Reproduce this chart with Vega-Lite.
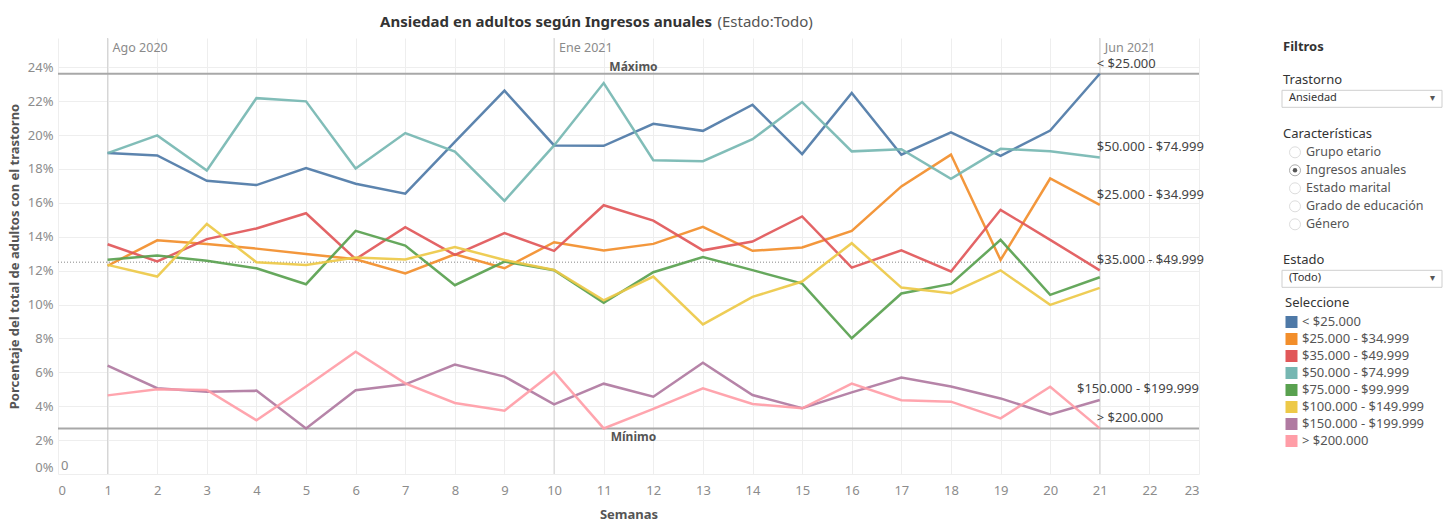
{
  "$schema": "https://vega.github.io/schema/vega-lite/v6.json",
  "background": "white",
  "padding": {"left": 8, "top": 14, "right": 0, "bottom": 0},
  "bounds": "flush",
  "spacing": 83,
  "config": {"font": "Noto Sans", "view": {"stroke": null}, "axis": {"labelOverlap": false}},
  "title": {
    "text": "Ansiedad en adultos según Ingresos anuales",
    "subtitle": "\u200b\u2003\u2003\u2003\u2003\u2003\u2003\u2003\u2003\u2003\u2003\u2003\u2003\u2003\u2003\u2003\u2003\u2003\u2003\u2003\u2003\u2003\u2003\u2009\u2009\u2009(Estado:Todo)",
    "anchor": "start",
    "frame": "group",
    "dx": 322,
    "fontSize": 15,
    "fontWeight": "bold",
    "color": "#333333",
    "lineHeight": 15,
    "subtitleFontSize": 15,
    "subtitleLineHeight": 15,
    "subtitleColor": "#555555",
    "subtitleFontWeight": "normal",
    "subtitlePadding": -15,
    "offset": 8
  },
  "datasets": {
    "series": [
      {"s":"< $25.000","w":1,"v":18.94},{"s":"< $25.000","w":2,"v":18.80},{"s":"< $25.000","w":3,"v":17.30},{"s":"< $25.000","w":4,"v":17.05},{"s":"< $25.000","w":5,"v":18.05},{"s":"< $25.000","w":6,"v":17.13},{"s":"< $25.000","w":7,"v":16.54},{"s":"< $25.000","w":8,"v":19.60},{"s":"< $25.000","w":9,"v":22.62},{"s":"< $25.000","w":10,"v":19.39},{"s":"< $25.000","w":11,"v":19.37},{"s":"< $25.000","w":12,"v":20.67},{"s":"< $25.000","w":13,"v":20.25},{"s":"< $25.000","w":14,"v":21.79},{"s":"< $25.000","w":15,"v":18.88},{"s":"< $25.000","w":16,"v":22.48},{"s":"< $25.000","w":17,"v":18.84},{"s":"< $25.000","w":18,"v":20.16},{"s":"< $25.000","w":19,"v":18.78},{"s":"< $25.000","w":20,"v":20.27},{"s":"< $25.000","w":21,"v":23.62},
      {"s":"$25.000 - $34.999","w":1,"v":12.29},{"s":"$25.000 - $34.999","w":2,"v":13.79},{"s":"$25.000 - $34.999","w":3,"v":13.57},{"s":"$25.000 - $34.999","w":4,"v":13.30},{"s":"$25.000 - $34.999","w":5,"v":12.99},{"s":"$25.000 - $34.999","w":6,"v":12.67},{"s":"$25.000 - $34.999","w":7,"v":11.83},{"s":"$25.000 - $34.999","w":8,"v":12.97},{"s":"$25.000 - $34.999","w":9,"v":12.14},{"s":"$25.000 - $34.999","w":10,"v":13.68},{"s":"$25.000 - $34.999","w":11,"v":13.19},{"s":"$25.000 - $34.999","w":12,"v":13.58},{"s":"$25.000 - $34.999","w":13,"v":14.58},{"s":"$25.000 - $34.999","w":14,"v":13.17},{"s":"$25.000 - $34.999","w":15,"v":13.37},{"s":"$25.000 - $34.999","w":16,"v":14.35},{"s":"$25.000 - $34.999","w":17,"v":16.97},{"s":"$25.000 - $34.999","w":18,"v":18.85},{"s":"$25.000 - $34.999","w":19,"v":12.63},{"s":"$25.000 - $34.999","w":20,"v":17.44},{"s":"$25.000 - $34.999","w":21,"v":15.88},
      {"s":"$35.000 - $49.999","w":1,"v":13.56},{"s":"$35.000 - $49.999","w":2,"v":12.54},{"s":"$35.000 - $49.999","w":3,"v":13.86},{"s":"$35.000 - $49.999","w":4,"v":14.49},{"s":"$35.000 - $49.999","w":5,"v":15.39},{"s":"$35.000 - $49.999","w":6,"v":12.68},{"s":"$35.000 - $49.999","w":7,"v":14.57},{"s":"$35.000 - $49.999","w":8,"v":12.93},{"s":"$35.000 - $49.999","w":9,"v":14.22},{"s":"$35.000 - $49.999","w":10,"v":13.17},{"s":"$35.000 - $49.999","w":11,"v":15.86},{"s":"$35.000 - $49.999","w":12,"v":14.95},{"s":"$35.000 - $49.999","w":13,"v":13.20},{"s":"$35.000 - $49.999","w":14,"v":13.72},{"s":"$35.000 - $49.999","w":15,"v":15.20},{"s":"$35.000 - $49.999","w":16,"v":12.18},{"s":"$35.000 - $49.999","w":17,"v":13.20},{"s":"$35.000 - $49.999","w":18,"v":11.95},{"s":"$35.000 - $49.999","w":19,"v":15.59},{"s":"$35.000 - $49.999","w":20,"v":13.82},{"s":"$35.000 - $49.999","w":21,"v":12.02},
      {"s":"$50.000 - $74.999","w":1,"v":18.94},{"s":"$50.000 - $74.999","w":2,"v":19.98},{"s":"$50.000 - $74.999","w":3,"v":17.91},{"s":"$50.000 - $74.999","w":4,"v":22.18},{"s":"$50.000 - $74.999","w":5,"v":21.99},{"s":"$50.000 - $74.999","w":6,"v":18.03},{"s":"$50.000 - $74.999","w":7,"v":20.12},{"s":"$50.000 - $74.999","w":8,"v":19.03},{"s":"$50.000 - $74.999","w":9,"v":16.12},{"s":"$50.000 - $74.999","w":10,"v":19.39},{"s":"$50.000 - $74.999","w":11,"v":23.07},{"s":"$50.000 - $74.999","w":12,"v":18.52},{"s":"$50.000 - $74.999","w":13,"v":18.46},{"s":"$50.000 - $74.999","w":14,"v":19.76},{"s":"$50.000 - $74.999","w":15,"v":21.95},{"s":"$50.000 - $74.999","w":16,"v":19.04},{"s":"$50.000 - $74.999","w":17,"v":19.17},{"s":"$50.000 - $74.999","w":18,"v":17.42},{"s":"$50.000 - $74.999","w":19,"v":19.19},{"s":"$50.000 - $74.999","w":20,"v":19.05},{"s":"$50.000 - $74.999","w":21,"v":18.68},
      {"s":"$75.000 - $99.999","w":1,"v":12.65},{"s":"$75.000 - $99.999","w":2,"v":12.89},{"s":"$75.000 - $99.999","w":3,"v":12.58},{"s":"$75.000 - $99.999","w":4,"v":12.14},{"s":"$75.000 - $99.999","w":5,"v":11.20},{"s":"$75.000 - $99.999","w":6,"v":14.35},{"s":"$75.000 - $99.999","w":7,"v":13.48},{"s":"$75.000 - $99.999","w":8,"v":11.14},{"s":"$75.000 - $99.999","w":9,"v":12.54},{"s":"$75.000 - $99.999","w":10,"v":12.03},{"s":"$75.000 - $99.999","w":11,"v":10.10},{"s":"$75.000 - $99.999","w":12,"v":11.91},{"s":"$75.000 - $99.999","w":13,"v":12.81},{"s":"$75.000 - $99.999","w":14,"v":12.03},{"s":"$75.000 - $99.999","w":15,"v":11.24},{"s":"$75.000 - $99.999","w":16,"v":8.01},{"s":"$75.000 - $99.999","w":17,"v":10.65},{"s":"$75.000 - $99.999","w":18,"v":11.22},{"s":"$75.000 - $99.999","w":19,"v":13.82},{"s":"$75.000 - $99.999","w":20,"v":10.57},{"s":"$75.000 - $99.999","w":21,"v":11.61},
      {"s":"$100.000 - $149.999","w":1,"v":12.34},{"s":"$100.000 - $149.999","w":2,"v":11.65},{"s":"$100.000 - $149.999","w":3,"v":14.76},{"s":"$100.000 - $149.999","w":4,"v":12.50},{"s":"$100.000 - $149.999","w":5,"v":12.34},{"s":"$100.000 - $149.999","w":6,"v":12.77},{"s":"$100.000 - $149.999","w":7,"v":12.66},{"s":"$100.000 - $149.999","w":8,"v":13.40},{"s":"$100.000 - $149.999","w":9,"v":12.63},{"s":"$100.000 - $149.999","w":10,"v":12.04},{"s":"$100.000 - $149.999","w":11,"v":10.25},{"s":"$100.000 - $149.999","w":12,"v":11.65},{"s":"$100.000 - $149.999","w":13,"v":8.83},{"s":"$100.000 - $149.999","w":14,"v":10.45},{"s":"$100.000 - $149.999","w":15,"v":11.36},{"s":"$100.000 - $149.999","w":16,"v":13.62},{"s":"$100.000 - $149.999","w":17,"v":11.00},{"s":"$100.000 - $149.999","w":18,"v":10.67},{"s":"$100.000 - $149.999","w":19,"v":12.02},{"s":"$100.000 - $149.999","w":20,"v":9.98},{"s":"$100.000 - $149.999","w":21,"v":10.98},
      {"s":"$150.000 - $199.999","w":1,"v":6.40},{"s":"$150.000 - $199.999","w":2,"v":5.06},{"s":"$150.000 - $199.999","w":3,"v":4.86},{"s":"$150.000 - $199.999","w":4,"v":4.92},{"s":"$150.000 - $199.999","w":5,"v":2.69},{"s":"$150.000 - $199.999","w":6,"v":4.94},{"s":"$150.000 - $199.999","w":7,"v":5.29},{"s":"$150.000 - $199.999","w":8,"v":6.46},{"s":"$150.000 - $199.999","w":9,"v":5.75},{"s":"$150.000 - $199.999","w":10,"v":4.11},{"s":"$150.000 - $199.999","w":11,"v":5.33},{"s":"$150.000 - $199.999","w":12,"v":4.56},{"s":"$150.000 - $199.999","w":13,"v":6.57},{"s":"$150.000 - $199.999","w":14,"v":4.66},{"s":"$150.000 - $199.999","w":15,"v":3.88},{"s":"$150.000 - $199.999","w":16,"v":4.82},{"s":"$150.000 - $199.999","w":17,"v":5.69},{"s":"$150.000 - $199.999","w":18,"v":5.16},{"s":"$150.000 - $199.999","w":19,"v":4.46},{"s":"$150.000 - $199.999","w":20,"v":3.52},{"s":"$150.000 - $199.999","w":21,"v":4.37},
      {"s":"> $200.000","w":1,"v":4.64},{"s":"> $200.000","w":2,"v":5.00},{"s":"> $200.000","w":3,"v":4.96},{"s":"> $200.000","w":4,"v":3.17},{"s":"> $200.000","w":5,"v":5.16},{"s":"> $200.000","w":6,"v":7.22},{"s":"> $200.000","w":7,"v":5.35},{"s":"> $200.000","w":8,"v":4.19},{"s":"> $200.000","w":9,"v":3.74},{"s":"> $200.000","w":10,"v":6.04},{"s":"> $200.000","w":11,"v":2.69},{"s":"> $200.000","w":12,"v":3.84},{"s":"> $200.000","w":13,"v":5.06},{"s":"> $200.000","w":14,"v":4.13},{"s":"> $200.000","w":15,"v":3.88},{"s":"> $200.000","w":16,"v":5.33},{"s":"> $200.000","w":17,"v":4.35},{"s":"> $200.000","w":18,"v":4.27},{"s":"> $200.000","w":19,"v":3.28},{"s":"> $200.000","w":20,"v":5.15},{"s":"> $200.000","w":21,"v":2.69}
    ],
    "panel": [
      {"row":"Filtros","label":"Filtros","kind":"title"},
      {"row":"Trastorno","label":"Trastorno","kind":"header"},
      {"row":"dd1","label":"Ansiedad","kind":"dropdown"},
      {"row":"Características","label":"Características","kind":"header"},
      {"row":"Grupo etario","label":"Grupo etario","kind":"radio","sel":false},
      {"row":"Ingresos anuales","label":"Ingresos anuales","kind":"radio","sel":true},
      {"row":"Estado marital","label":"Estado marital","kind":"radio","sel":false},
      {"row":"Grado de educación","label":"Grado de educación","kind":"radio","sel":false},
      {"row":"Género","label":"Género","kind":"radio","sel":false},
      {"row":"Estado","label":"Estado","kind":"header"},
      {"row":"dd2","label":"(Todo)","kind":"dropdown"}
    ]
  },
  "hconcat": [
    {
      "width": 1141,
      "height": 436,
      "layer": [
        {
          "data": {"values": [{"w":1,"lab":"Ago 2020"},{"w":10,"lab":"Ene 2021"},{"w":21,"lab":"Jun 2021"}]},
          "layer": [
            {"mark": {"type": "rule", "color": "#d2d2d2", "strokeWidth": 1},
             "encoding": {"x": {"field": "w", "type": "quantitative", "title": "Semanas"}}},
            {"mark": {"type": "text", "align": "left", "baseline": "top", "dx": 5, "dy": 4, "fontSize": 12.5, "color": "#8a8a8a"},
             "encoding": {"x": {"field": "w", "type": "quantitative", "title": "Semanas"}, "y": {"datum": 25.73}, "text": {"field": "lab"}}}
          ]
        },
        {"data": {"values": [{}]},
         "mark": {"type": "rule", "color": "#888888", "strokeWidth": 1, "strokeDash": [1, 2]},
         "encoding": {"y": {"datum": 12.5}}},
        {"data": {"values": [{}]},
         "mark": {"type": "rule", "color": "#a8a8a8", "strokeWidth": 2},
         "encoding": {"y": {"datum": 23.62}}},
        {"data": {"values": [{}]},
         "mark": {"type": "rule", "color": "#a8a8a8", "strokeWidth": 2},
         "encoding": {"y": {"datum": 2.69}}},
        {"data": {"values": [{}]},
         "mark": {"type": "text", "text": "Máximo", "baseline": "bottom", "dy": 0, "fontSize": 12, "fontWeight": "bold", "color": "#555555"},
         "encoding": {"x": {"datum": 11.6}, "y": {"datum": 23.62}}},
        {"data": {"values": [{}]},
         "mark": {"type": "text", "text": "Mínimo", "baseline": "top", "dy": 4, "fontSize": 12, "fontWeight": "bold", "color": "#555555"},
         "encoding": {"x": {"datum": 11.6}, "y": {"datum": 2.69}}},
        {"data": {"values": [{}]},
         "mark": {"type": "text", "text": "0", "align": "left", "baseline": "bottom", "dx": 3, "dy": -1, "fontSize": 13, "color": "#888888"},
         "encoding": {"x": {"datum": 0}, "y": {"datum": 0}}},
        {
          "data": {"name": "series"},
          "mark": {"type": "line", "strokeWidth": 2.5, "opacity": 0.92},
          "encoding": {
            "x": {"field": "w", "type": "quantitative",
                  "scale": {"domain": [0, 23], "nice": false, "zero": false},
                  "axis": {"values": [0,1,2,3,4,5,6,7,8,9,10,11,12,13,14,15,16,17,18,19,20,21,22,23], "tickCount": 40, "format": "d", "title": "Semanas", "grid": true, "gridColor": "#eeeeee", "domain": false, "ticks": false, "labelFlush": true, "labelOverlap": false, "labelColor": "#8c8c8c", "labelFontSize": 13, "labelPadding": 10, "titleFontSize": 13, "titleFontWeight": "bold", "titleColor": "#555555", "titlePadding": 11}},
            "y": {"field": "v", "type": "quantitative",
                  "scale": {"domain": [0, 25.73], "nice": false},
                  "axis": {"values": [0,2,4,6,8,10,12,14,16,18,20,22,24], "tickCount": 30, "labelExpr": "datum.value + '%'", "title": "Porcentaje del total de adultos con el trastorno", "grid": true, "gridColor": "#eeeeee", "domain": false, "ticks": false, "labelFlush": true, "labelOverlap": false, "labelColor": "#8c8c8c", "labelFontSize": 13, "labelPadding": 5, "titleFontSize": 13, "titleFontWeight": "bold", "titleColor": "#555555", "titlePadding": 6}},
            "color": {"field": "s", "type": "nominal",
                      "scale": {"domain": ["< $25.000","$25.000 - $34.999","$35.000 - $49.999","$50.000 - $74.999","$75.000 - $99.999","$100.000 - $149.999","$150.000 - $199.999","> $200.000"],
                                "range": ["#4e79a7","#f28e2b","#e15759","#76b7b2","#59a14f","#edc948","#b07aa1","#ff9da7"]},
                      "legend": {"title": "Seleccione", "orient": "none", "legendX": 1227, "legendY": 259, "symbolType": "square", "symbolSize": 36, "symbolStrokeWidth": 6, "symbolOpacity": 1, "clipHeight": 14, "labelFontSize": 13, "labelColor": "#555555", "labelOffset": 4, "titleFontSize": 13, "titleFontWeight": "normal", "titleColor": "#333333", "titlePadding": 5, "rowPadding": 3, "padding": 0}}
          }
        },
        {
          "data": {"name": "series"},
          "transform": [{"filter": "datum.w == 21 && indexof(['< $25.000','$25.000 - $34.999','$35.000 - $49.999','$50.000 - $74.999','> $200.000'], datum.s) >= 0"}],
          "mark": {"type": "text", "align": "left", "baseline": "middle", "dx": -3, "dy": -10, "fontSize": 13, "color": "#444444"},
          "encoding": {"x": {"field": "w", "type": "quantitative", "title": "Semanas"}, "y": {"field": "v", "type": "quantitative", "title": "Porcentaje del total de adultos con el trastorno"}, "text": {"field": "s"}}
        },
        {
          "data": {"name": "series"},
          "transform": [{"filter": "datum.w == 21 && datum.s == '$150.000 - $199.999'"}],
          "mark": {"type": "text", "align": "right", "baseline": "middle", "dy": -11, "fontSize": 13, "color": "#444444"},
          "encoding": {"x": {"datum": 23}, "y": {"field": "v", "type": "quantitative", "title": "Porcentaje del total de adultos con el trastorno"}, "text": {"field": "s"}}
        }
      ]
    },
    {
      "width": 158,
      "height": {"step": 18},
      "data": {"name": "panel"},
      "encoding": {
        "y": {"field": "row", "type": "nominal", "axis": null,
              "scale": {"type": "point", "padding": 0.35,
                        "domain": ["Filtros","_b1","Trastorno","dd1","_b2","Características","Grupo etario","Ingresos anuales","Estado marital","Grado de educación","Género","_b3","Estado","dd2"]}}
      },
      "layer": [
        {"transform": [{"filter": "datum.kind == 'dropdown'"}],
         "mark": {"type": "rect", "fill": "white", "stroke": "#cfcfcf", "strokeWidth": 1, "yOffset": -8, "y2Offset": 9, "xOffset": 2, "x2Offset": -2},
         "encoding": {"y2": {"field": "row"}}},
        {"transform": [{"filter": "datum.kind == 'dropdown'"}],
         "mark": {"type": "text", "align": "left", "baseline": "middle", "dx": -72, "fontSize": 11, "color": "#333333"},
         "encoding": {"text": {"field": "label"}}},
        {"transform": [{"filter": "datum.kind == 'dropdown'"}],
         "mark": {"type": "text", "text": "▾", "align": "center", "baseline": "middle", "dx": 71, "fontSize": 10, "color": "#555555"},
         "encoding": {}},
        {"transform": [{"filter": "datum.kind == 'header'"}],
         "mark": {"type": "text", "align": "left", "baseline": "middle", "dx": -78, "fontSize": 13, "color": "#333333"},
         "encoding": {"text": {"field": "label"}}},
        {"transform": [{"filter": "datum.kind == 'title'"}],
         "mark": {"type": "text", "align": "left", "baseline": "middle", "dx": -78, "dy": 3, "fontSize": 13, "fontWeight": "bold", "color": "#333333"},
         "encoding": {"text": {"field": "label"}}},
        {"transform": [{"filter": "datum.kind == 'radio'"}],
         "mark": {"type": "point", "shape": "circle", "size": 121, "filled": false, "fill": "white", "strokeWidth": 1, "xOffset": -66},
         "encoding": {"stroke": {"condition": {"test": "datum.sel", "value": "#8a8a8a"}, "value": "#d0d0d0"}}},
        {"transform": [{"filter": "datum.kind == 'radio' && datum.sel"}],
         "mark": {"type": "point", "shape": "circle", "size": 20, "filled": true, "color": "#555555", "opacity": 1, "xOffset": -66},
         "encoding": {}},
        {"transform": [{"filter": "datum.kind == 'radio'"}],
         "mark": {"type": "text", "align": "left", "baseline": "middle", "dx": -55, "fontSize": 12.5, "color": "#555555"},
         "encoding": {"text": {"field": "label"}}}
      ]
    }
  ]
}
